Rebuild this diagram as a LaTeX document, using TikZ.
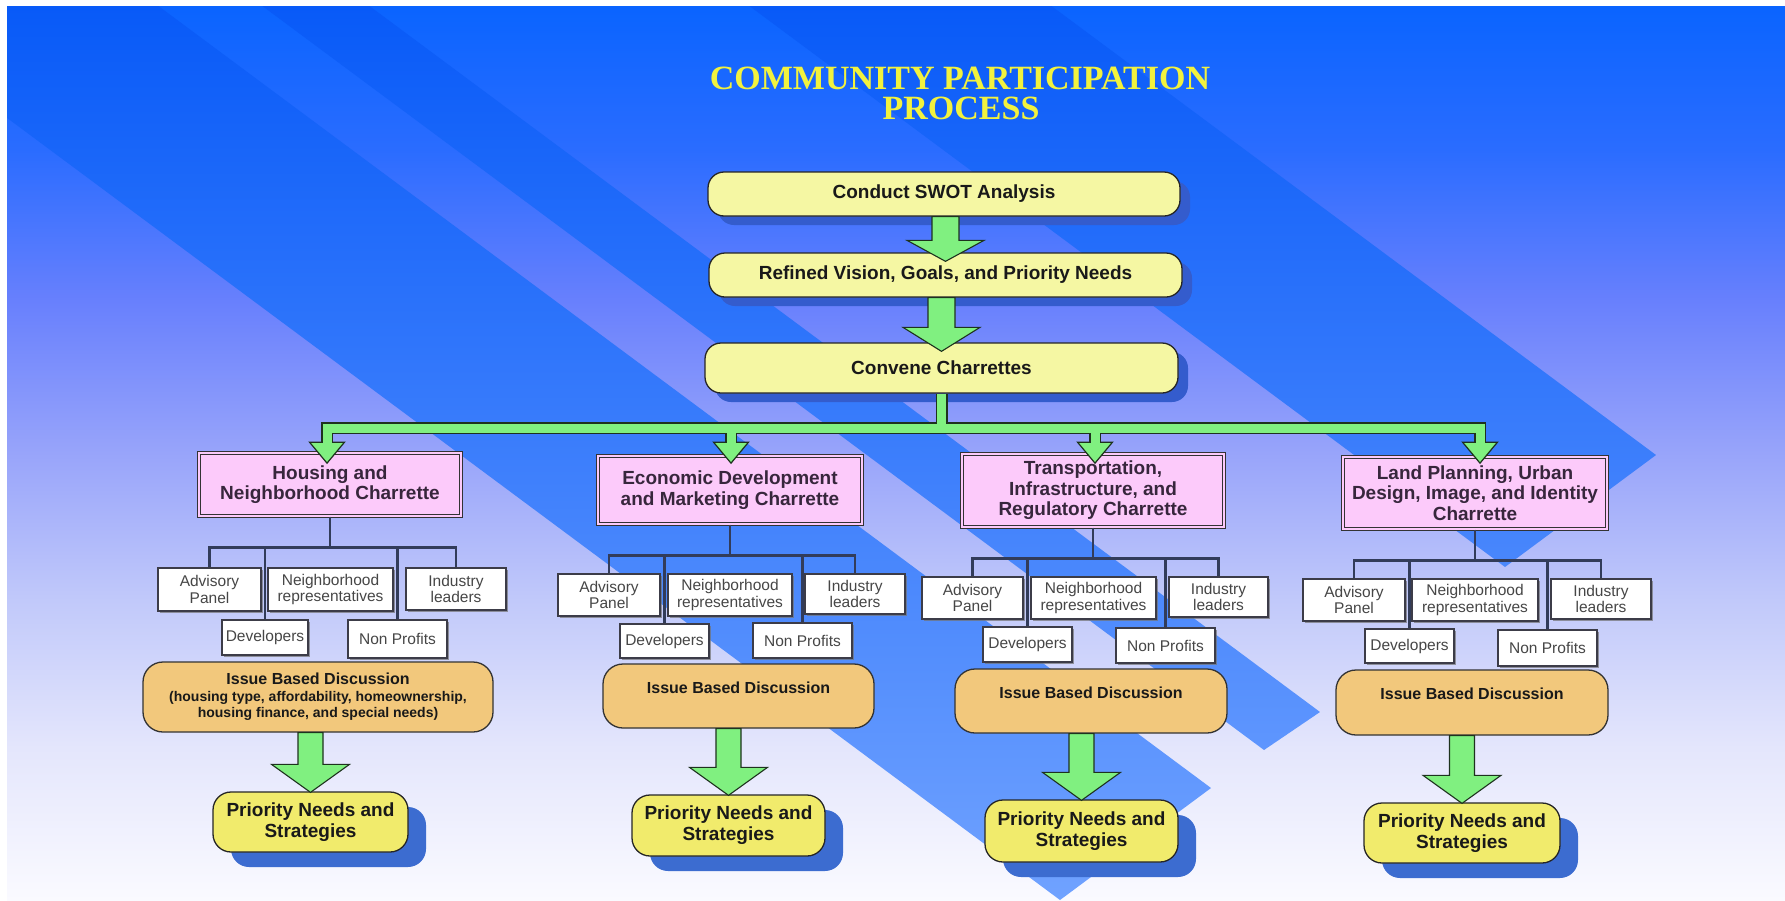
\documentclass[tikz,border=0pt]{standalone}
\usepackage{fontspec}
\setmainfont{Liberation Sans}
\newfontfamily\titlefont{Liberation Serif}
\usetikzlibrary{shadows,calc}
\definecolor{bg0}{RGB}{250,250,255}
\definecolor{bg1}{RGB}{228,230,252}
\definecolor{bg2}{RGB}{192,200,250}
\definecolor{bg3}{RGB}{152,164,250}
\definecolor{bg4}{RGB}{104,128,253}
\definecolor{bg5}{RGB}{42,108,255}
\definecolor{bg6}{RGB}{10,100,255}
\definecolor{bandtop}{RGB}{8,90,248}
\definecolor{bandmid}{RGB}{78,138,255}
\definecolor{bandbot}{RGB}{112,162,255}
\definecolor{titleyellow}{RGB}{242,242,62}
\definecolor{flowyellow}{RGB}{245,247,163}
\definecolor{prioyellow}{RGB}{241,235,108}
\definecolor{issuetan}{RGB}{242,200,124}
\definecolor{chpink}{RGB}{252,202,250}
\definecolor{arrowgreen}{RGB}{128,240,128}
\definecolor{greenedge}{RGB}{30,50,30}
\definecolor{shadowblue}{RGB}{52,92,205}
\definecolor{prioshadow}{RGB}{60,108,208}
\definecolor{connline}{RGB}{50,60,90}
\definecolor{boxline}{RGB}{60,60,72}
\definecolor{textdark}{RGB}{25,25,25}
\definecolor{chtext}{RGB}{55,38,60}
\definecolor{smalltext}{RGB}{70,70,70}
\pgfdeclareverticalshading{bgsh}{100bp}{color(0bp)=(bg0); color(25bp)=(bg0); color(33.5bp)=(bg1);
  color(42bp)=(bg2); color(50bp)=(bg3); color(58.5bp)=(bg4); color(67bp)=(bg5); color(75bp)=(bg6);
  color(100bp)=(bg6)}
\tikzset{
  bandshade/.style={top color=bandtop, middle color=bandmid, bottom color=bandbot},
  titletext/.style={text=titleyellow, font=\titlefont\bfseries\fontsize{34}{36}\selectfont, inner sep=0},
  flowbox/.style={draw=black!85, line width=1.3pt, fill=flowyellow, rounded corners=16pt,
    inner sep=0, text=textdark, font=\fontsize{19}{21}\selectfont\bfseries,
    drop shadow={shadow xshift=10pt, shadow yshift=-9pt, fill=shadowblue, opacity=1}},
  charbox/.style={draw=black!80, double=chpink, double distance=2pt, line width=1.1pt,
    fill=chpink, inner sep=0, align=center, text=chtext, font=\fontsize{19}{20.5}\selectfont\bfseries},
  smallbox/.style={draw=boxline, line width=1.2pt, fill=white, inner sep=0, align=center,
    text=smalltext, font=\fontsize{15.5}{16.5}\selectfont,
    drop shadow={shadow xshift=1.5pt, shadow yshift=-1.5pt, fill=black!55, opacity=0.7}},
  issuebox/.style={draw=black!80, line width=1.3pt, fill=issuetan, rounded corners=20pt,
    inner sep=0, align=center, text=textdark, font=\fontsize{16}{17.5}\selectfont\bfseries},
  priobox/.style={draw=black!85, line width=1.3pt, fill=prioyellow, rounded corners=18pt,
    inner sep=0, align=center, text=textdark, font=\fontsize{19}{21}\selectfont\bfseries,
    drop shadow={shadow xshift=18pt, shadow yshift=-15pt, fill=prioshadow, opacity=1}},
  bigarrow/.style={fill=arrowgreen, draw=greenedge, line width=1.1pt, line join=miter},
  conn/.style={draw=connline, line width=2.2pt},
  combout/.style={draw=greenedge, line width=12pt, line cap=butt, line join=miter},
  combin/.style={draw=arrowgreen, line width=9pt, line cap=butt, line join=miter},
  combhead/.style={fill=arrowgreen, draw=greenedge, line width=1.2pt, line join=miter}
}
\newcommand\blockarrow[6]{%
  \path[bigarrow] let \p1=(#1), \p2=(#2) in
    (\x2-#3,\y1) -- (\x2-#3,\y2-#6+#5) -- (\x2-#4,\y2-#6+#5) -- (\x2,\y2-#6)
    -- (\x2+#4,\y2-#6+#5) -- (\x2+#3,\y2-#6+#5) -- (\x2+#3,\y1) -- cycle;}
\newcommand\combhead[1]{%
  \path[combhead] let \p1=(#1) in
    (\x1-17.5pt,\y1) -- (\x1+17.5pt,\y1) -- (\x1,\y1-21pt) -- cycle;}
\begin{document}
\begin{tikzpicture}[x=1pt,y=-1pt]
\useasboundingbox (0,0) rectangle (1785,900);
\fill[white] (0,0) rectangle (1785,900);
\shade[shading=bgsh] (7,6) rectangle (1785,900);
% diagonal bands
\begin{scope}
  \clip (-219,-50) -- (1060,900) -- (1211,788) -- (83,-50) -- cycle;
  \shade[bandshade] (7,6) rectangle (1785,900);
\end{scope}
\begin{scope}
  \clip (187,-50) -- (1264,750) -- (1320,712) -- (294,-50) -- cycle;
  \shade[bandshade] (7,6) rectangle (1785,900);
\end{scope}
\begin{scope}
  \clip (674,-50) -- (1505,567) -- (1656,455) -- (976,-50) -- cycle;
  \shade[bandshade] (7,6) rectangle (1785,900);
\end{scope}

% title
\node[titletext, anchor=base] (title1) at (960,89) {COMMUNITY PARTICIPATION};
\node[titletext, anchor=base] (title2) at (961,119.5) {PROCESS};

% main flow
\node[flowbox, minimum width=472pt, minimum height=44pt] (b1) at (944,194) {Conduct SWOT Analysis};
\node[flowbox, minimum width=473pt, minimum height=44pt] (b2) at (945.5,275) {Refined Vision, Goals, and Priority Needs};
\node[flowbox, minimum width=473pt, minimum height=50pt] (b3) at (941.5,368) {Convene Charrettes};

\blockarrow{b1.south}{b2.north}{13.5pt}{38.5pt}{21pt}{9pt}
\blockarrow{b2.south}{b3.north}{13.5pt}{38.5pt}{24pt}{9pt}

% charrettes
\node[charbox, minimum width=262pt, minimum height=63pt] (ch1) at (330,484.5) {Housing and\\Neighborhood Charrette};
\node[charbox, minimum width=264pt, minimum height=68pt] (ch2) at (730,490) {Economic Development\\and Marketing Charrette};
\node[charbox, minimum width=262pt, minimum height=73pt] (ch3) at (1093,490.5) {Transportation,\\Infrastructure, and\\Regulatory Charrette};
\node[charbox, minimum width=264pt, minimum height=72pt] (ch4) at (1475,493) {Land Planning, Urban\\Design, Image, and Identity\\Charrette};

% green distribution bar
\coordinate (bus) at ($(b3.south)+(0,34.5)$);
\coordinate (h1) at ($(ch1.north |- bus)+(-3,14)$);
\coordinate (h2) at ($(ch2.north |- bus)+(1,14)$);
\coordinate (h3) at ($(ch3.north |- bus)+(2,14)$);
\coordinate (h4) at ($(ch4.north |- bus)+(5,14)$);
\draw[combout] (b3.south) -- (bus);
\draw[combout] (h1) -- (h1 |- bus) -- (h4 |- bus) -- (h4);
\draw[combout] (h2 |- bus) -- (h2);
\draw[combout] (h3 |- bus) -- (h3);
\combhead{h1}
\combhead{h2}
\combhead{h3}
\combhead{h4}
\draw[combin] (b3.south) -- (bus);
\draw[combin] ($(h1)+(0,1)$) -- (h1 |- bus) -- (h4 |- bus) -- ($(h4)+(0,1)$);
\draw[combin] (h2 |- bus) -- ($(h2)+(0,1)$);
\draw[combin] (h3 |- bus) -- ($(h3)+(0,1)$);

% ---------- column 1: Housing
\node[smallbox, minimum width=103pt, minimum height=43pt] (adv1) at (209.5,589.5) {Advisory\\Panel};
\node[smallbox, minimum width=125pt, minimum height=43pt] (nbr1) at (330.5,589.5) {Neighborhood\\representatives};
\node[smallbox, minimum width=100pt, minimum height=42pt] (ind1) at (456,589) {Industry\\leaders};
\node[smallbox, minimum width=86pt, minimum height=35pt] (dev1) at (265,637.5) {Developers};
\node[smallbox, minimum width=99pt, minimum height=38pt] (np1) at (397.5,639) {Non Profits};
\node[issuebox, minimum width=350pt, minimum height=70pt] (is1) at (318,697)
  {Issue Based Discussion\\[-1pt]{\fontsize{14}{16.5}\selectfont(housing type, affordability, homeownership,}\\[-1pt]{\fontsize{14}{16.5}\selectfont housing finance, and special needs)}};
\node[priobox, minimum width=195pt, minimum height=60pt] (pr1) at (310.5,822) {Priority Needs and\\Strategies};

% ---------- column 2: Economic
\node[smallbox, minimum width=102pt, minimum height=42pt] (adv2) at (609,595) {Advisory\\Panel};
\node[smallbox, minimum width=124pt, minimum height=42pt] (nbr2) at (730,595) {Neighborhood\\representatives};
\node[smallbox, minimum width=100pt, minimum height=40pt] (ind2) at (855,594) {Industry\\leaders};
\node[smallbox, minimum width=89pt, minimum height=34pt] (dev2) at (664.5,641) {Developers};
\node[smallbox, minimum width=99pt, minimum height=35pt] (np2) at (802.5,640.5) {Non Profits};
\node[issuebox, minimum width=271pt, minimum height=64pt] (is2) at (738.5,696) {Issue Based Discussion\\\mbox{}};
\node[priobox, minimum width=193pt, minimum height=61pt] (pr2) at (728.5,825.5) {Priority Needs and\\Strategies};

% ---------- column 3: Transportation
\node[smallbox, minimum width=101pt, minimum height=42pt] (adv3) at (972.5,598) {Advisory\\Panel};
\node[smallbox, minimum width=125pt, minimum height=42pt] (nbr3) at (1093.5,598) {Neighborhood\\representatives};
\node[smallbox, minimum width=99pt, minimum height=40pt] (ind3) at (1218.5,597) {Industry\\leaders};
\node[smallbox, minimum width=89pt, minimum height=35pt] (dev3) at (1027.5,644.5) {Developers};
\node[smallbox, minimum width=99pt, minimum height=35pt] (np3) at (1165.5,645.5) {Non Profits};
\node[issuebox, minimum width=272pt, minimum height=64pt] (is3) at (1091,701) {Issue Based Discussion\\\mbox{}};
\node[priobox, minimum width=193pt, minimum height=62pt] (pr3) at (1081.5,831) {Priority Needs and\\Strategies};

% ---------- column 4: Land planning
\node[smallbox, minimum width=102pt, minimum height=42pt] (adv4) at (1354,600) {Advisory\\Panel};
\node[smallbox, minimum width=126pt, minimum height=42pt] (nbr4) at (1475,600) {Neighborhood\\representatives};
\node[smallbox, minimum width=100pt, minimum height=40pt] (ind4) at (1601,599) {Industry\\leaders};
\node[smallbox, minimum width=89pt, minimum height=34pt] (dev4) at (1409.5,646) {Developers};
\node[smallbox, minimum width=99pt, minimum height=36pt] (np4) at (1547.5,648) {Non Profits};
\node[issuebox, minimum width=272pt, minimum height=65pt] (is4) at (1472,702.5) {Issue Based Discussion\\\mbox{}};
\node[priobox, minimum width=196pt, minimum height=60pt] (pr4) at (1462,833) {Priority Needs and\\Strategies};

% tree connectors
\foreach \k in {1,2,3,4}{
  \coordinate (hub\k) at ($(ch\k.south)+(0,31)$);
  \draw[conn] (ch\k.south) -- (hub\k);
  \draw[conn] (adv\k.north) |- (hub\k) -| (ind\k.north);
  \draw[conn] (dev\k.north) -- (dev\k.north |- hub\k);
  \draw[conn] (np\k.north) -- (np\k.north |- hub\k);
}

% lower block arrows
\blockarrow{is1.south}{pr1.north}{12.5pt}{39pt}{28pt}{1pt}
\blockarrow{is2.south}{pr2.north}{12.5pt}{39pt}{28pt}{1pt}
\blockarrow{is3.south}{pr3.north}{12.5pt}{39pt}{28pt}{1pt}
\blockarrow{is4.south}{pr4.north}{12.5pt}{39pt}{28pt}{1pt}
\end{tikzpicture}
\end{document}
